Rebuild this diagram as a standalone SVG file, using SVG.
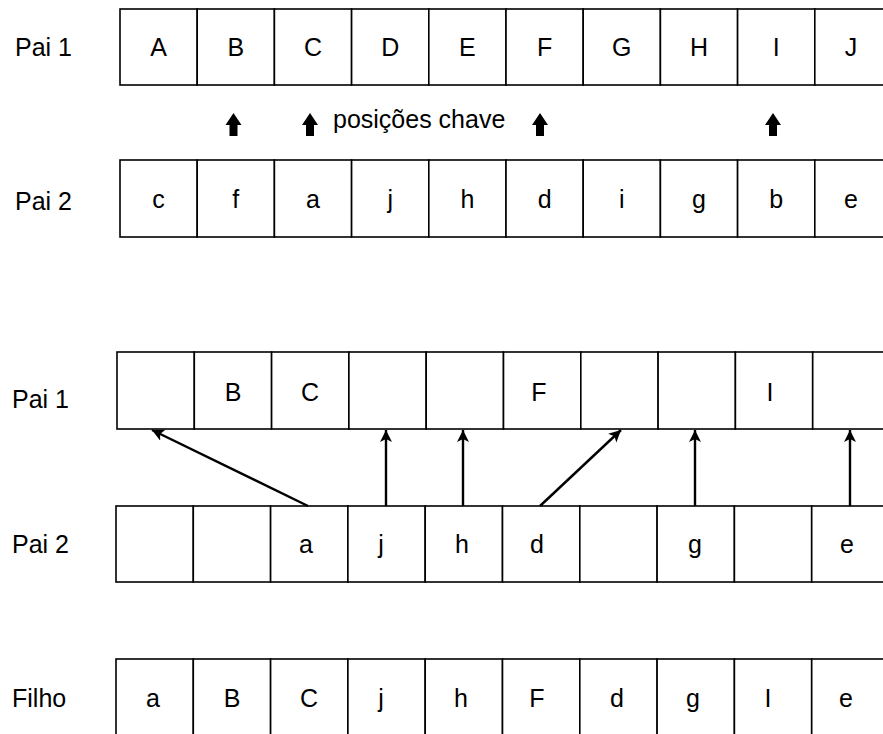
<svg xmlns="http://www.w3.org/2000/svg" width="883" height="734" viewBox="0 0 883 734">
<style>
.cell{fill:#fff;stroke:#000;stroke-width:1.6}
.t{font-family:"Liberation Sans",Arial,sans-serif;font-size:25px;fill:#000;text-anchor:middle}
.lbl{font-family:"Liberation Sans",Arial,sans-serif;font-size:25px;fill:#000}
.con{stroke:#000;stroke-width:2.4;fill:none;marker-end:url(#ah)}
.blk{fill:#000}
</style>
<defs>
<marker id="ah" markerUnits="userSpaceOnUse" markerWidth="14" markerHeight="14" refX="12" refY="6" orient="auto">
<path d="M0,0 L12,6 L0,12 L3,6 Z" fill="#000"/>
</marker>
<path id="blkarrow" d="M0,0 L8,12 L4,12 L4,23 L-4,23 L-4,12 L-8,12 Z"/>
</defs>

<!-- Section 1 -->
<text class="lbl" x="15" y="56">Pai 1</text>
<g id="r1">
<g id="r1c0"><rect class="cell" x="120" y="9" width="77.2" height="76"/><text class="t" x="158.6" y="56">A</text></g>
<g id="r1c1"><rect class="cell" x="197.2" y="9" width="77.2" height="76"/><text class="t" x="235.8" y="56">B</text></g>
<g id="r1c2"><rect class="cell" x="274.4" y="9" width="77.2" height="76"/><text class="t" x="313" y="56">C</text></g>
<g id="r1c3"><rect class="cell" x="351.6" y="9" width="77.2" height="76"/><text class="t" x="390.2" y="56">D</text></g>
<g id="r1c4"><rect class="cell" x="428.8" y="9" width="77.2" height="76"/><text class="t" x="467.4" y="56">E</text></g>
<g id="r1c5"><rect class="cell" x="506" y="9" width="77.2" height="76"/><text class="t" x="544.6" y="56">F</text></g>
<g id="r1c6"><rect class="cell" x="583.2" y="9" width="77.2" height="76"/><text class="t" x="621.8" y="56">G</text></g>
<g id="r1c7"><rect class="cell" x="660.4" y="9" width="77.2" height="76"/><text class="t" x="699" y="56">H</text></g>
<g id="r1c8"><rect class="cell" x="737.6" y="9" width="77.2" height="76"/><text class="t" x="776.2" y="56">I</text></g>
<g id="r1c9"><rect class="cell" x="814.8" y="9" width="77.2" height="76"/><text class="t" x="851" y="56">J</text></g>
</g>

<g id="keys">
<use href="#blkarrow" x="233.5" y="113"/>
<use href="#blkarrow" x="310" y="113"/>
<use href="#blkarrow" x="540" y="113"/>
<use href="#blkarrow" x="773" y="113"/>
<text class="lbl" x="333" y="128">posições chave</text>
</g>

<text class="lbl" x="15" y="210">Pai 2</text>
<g id="r2">
<g id="r2c0"><rect class="cell" x="120" y="160" width="77.2" height="77"/><text class="t" x="158.6" y="208">c</text></g>
<g id="r2c1"><rect class="cell" x="197.2" y="160" width="77.2" height="77"/><text class="t" x="235.8" y="208">f</text></g>
<g id="r2c2"><rect class="cell" x="274.4" y="160" width="77.2" height="77"/><text class="t" x="313" y="208">a</text></g>
<g id="r2c3"><rect class="cell" x="351.6" y="160" width="77.2" height="77"/><text class="t" x="390.2" y="208">j</text></g>
<g id="r2c4"><rect class="cell" x="428.8" y="160" width="77.2" height="77"/><text class="t" x="467.4" y="208">h</text></g>
<g id="r2c5"><rect class="cell" x="506" y="160" width="77.2" height="77"/><text class="t" x="544.6" y="208">d</text></g>
<g id="r2c6"><rect class="cell" x="583.2" y="160" width="77.2" height="77"/><text class="t" x="621.8" y="208">i</text></g>
<g id="r2c7"><rect class="cell" x="660.4" y="160" width="77.2" height="77"/><text class="t" x="699" y="208">g</text></g>
<g id="r2c8"><rect class="cell" x="737.6" y="160" width="77.2" height="77"/><text class="t" x="776.2" y="208">b</text></g>
<g id="r2c9"><rect class="cell" x="814.8" y="160" width="77.2" height="77"/><text class="t" x="851" y="208">e</text></g>
</g>

<!-- Section 2 -->
<text class="lbl" x="12" y="408">Pai 1</text>
<g id="r3">
<g id="r3c0"><rect class="cell" x="117" y="352" width="77.3" height="77"/></g>
<g id="r3c1"><rect class="cell" x="194.3" y="352" width="77.3" height="77"/><text class="t" x="233" y="401">B</text></g>
<g id="r3c2"><rect class="cell" x="271.6" y="352" width="77.3" height="77"/><text class="t" x="310" y="401">C</text></g>
<g id="r3c3"><rect class="cell" x="348.9" y="352" width="77.3" height="77"/></g>
<g id="r3c4"><rect class="cell" x="426.2" y="352" width="77.3" height="77"/></g>
<g id="r3c5"><rect class="cell" x="503.5" y="352" width="77.3" height="77"/><text class="t" x="539" y="401">F</text></g>
<g id="r3c6"><rect class="cell" x="580.8" y="352" width="77.3" height="77"/></g>
<g id="r3c7"><rect class="cell" x="658.1" y="352" width="77.3" height="77"/></g>
<g id="r3c8"><rect class="cell" x="735.4" y="352" width="77.3" height="77"/><text class="t" x="770" y="401">I</text></g>
<g id="r3c9"><rect class="cell" x="812.7" y="352" width="80" height="77"/></g>
</g>

<text class="lbl" x="12" y="553">Pai 2</text>
<g id="r4">
<g id="r4c0"><rect class="cell" x="116" y="506" width="77.3" height="76"/></g>
<g id="r4c1"><rect class="cell" x="193.3" y="506" width="77.3" height="76"/></g>
<g id="r4c2"><rect class="cell" x="270.6" y="506" width="77.3" height="76"/><text class="t" x="306" y="553">a</text></g>
<g id="r4c3"><rect class="cell" x="347.9" y="506" width="77.3" height="76"/><text class="t" x="381" y="553">j</text></g>
<g id="r4c4"><rect class="cell" x="425.2" y="506" width="77.3" height="76"/><text class="t" x="462" y="553">h</text></g>
<g id="r4c5"><rect class="cell" x="502.5" y="506" width="77.3" height="76"/><text class="t" x="537" y="553">d</text></g>
<g id="r4c6"><rect class="cell" x="579.8" y="506" width="77.3" height="76"/></g>
<g id="r4c7"><rect class="cell" x="657.1" y="506" width="77.3" height="76"/><text class="t" x="695" y="553">g</text></g>
<g id="r4c8"><rect class="cell" x="734.4" y="506" width="77.3" height="76"/></g>
<g id="r4c9"><rect class="cell" x="811.7" y="506" width="80" height="76"/><text class="t" x="847" y="553">e</text></g>
</g>

<g id="connectors">
<line class="con" x1="308" y1="506" x2="152" y2="430"/>
<line class="con" x1="386" y1="506" x2="386" y2="430"/>
<line class="con" x1="463" y1="506" x2="463" y2="430"/>
<line class="con" x1="540" y1="506" x2="621" y2="430"/>
<line class="con" x1="695" y1="506" x2="695" y2="430"/>
<line class="con" x1="850" y1="506" x2="850" y2="430"/>
</g>

<!-- Section 3 -->
<text class="lbl" x="12" y="707">Filho</text>
<g id="r5">
<g id="r5c0"><rect class="cell" x="116" y="659" width="77.3" height="85"/><text class="t" x="153" y="707">a</text></g>
<g id="r5c1"><rect class="cell" x="193.3" y="659" width="77.3" height="85"/><text class="t" x="232" y="707">B</text></g>
<g id="r5c2"><rect class="cell" x="270.6" y="659" width="77.3" height="85"/><text class="t" x="309" y="707">C</text></g>
<g id="r5c3"><rect class="cell" x="347.9" y="659" width="77.3" height="85"/><text class="t" x="381" y="707">j</text></g>
<g id="r5c4"><rect class="cell" x="425.2" y="659" width="77.3" height="85"/><text class="t" x="461" y="707">h</text></g>
<g id="r5c5"><rect class="cell" x="502.5" y="659" width="77.3" height="85"/><text class="t" x="537" y="707">F</text></g>
<g id="r5c6"><rect class="cell" x="579.8" y="659" width="77.3" height="85"/><text class="t" x="617" y="707">d</text></g>
<g id="r5c7"><rect class="cell" x="657.1" y="659" width="77.3" height="85"/><text class="t" x="693" y="707">g</text></g>
<g id="r5c8"><rect class="cell" x="734.4" y="659" width="77.3" height="85"/><text class="t" x="768" y="707">I</text></g>
<g id="r5c9"><rect class="cell" x="811.7" y="659" width="80" height="85"/><text class="t" x="846" y="707">e</text></g>
</g>
</svg>
